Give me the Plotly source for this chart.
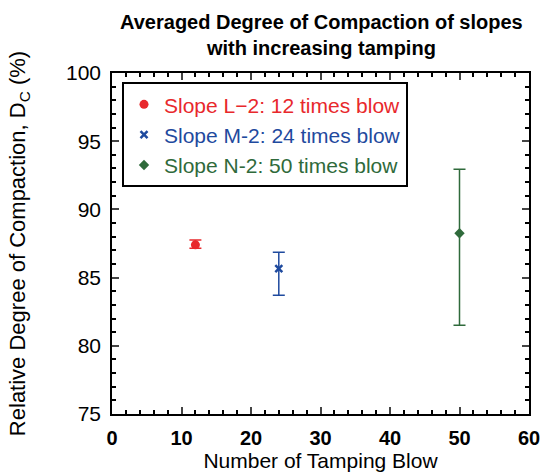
import plotly.graph_objects as go

# averaged degree of compaction per slope
slopes = ["Slope L\u22122: 12 times blow", "Slope M-2: 24 times blow", "Slope N-2: 50 times blow"]
blows = [12, 24, 50]
dc_mean = [87.4, 85.65, 88.25]
err_plus = [0.35, 1.2, 4.7]
err_minus = [0.25, 1.95, 6.75]

colors = ["#e8282c", "#1f4a9e", "#2f6a3b"]
symbols = ["circle", "x-thin-open", "diamond"]
sizes = [9, 7, 8]

font = "Liberation Sans, Arial"

fig = go.Figure()
for i in range(len(slopes)):
    fig.add_trace(go.Scatter(
        x=[blows[i]], y=[dc_mean[i]], mode="markers",
        name=f"<span style='color:{colors[i]}'>{slopes[i]}</span>",
        marker=dict(color=colors[i], symbol=symbols[i], size=sizes[i],
                    line=dict(color=colors[i], width=2.5 if i == 1 else 0)),
        error_y=dict(type="data", symmetric=False, array=[err_plus[i]],
                     arrayminus=[err_minus[i]], color=colors[i],
                     thickness=1.5, width=6),
    ))

fig.update_layout(
    width=542, height=472,
    margin=dict(l=112, r=13, t=73, b=58),
    paper_bgcolor="white", plot_bgcolor="white",
    font=dict(family=font, color="black"),
    title=dict(text="<b>Averaged Degree of Compaction of slopes<br>with increasing tamping</b>",
               x=0.593, xanchor="center", y=0.939, yanchor="middle",
               font=dict(size=20)),
    legend=dict(x=0.024, y=0.973, xanchor="left", yanchor="top",
                bordercolor="black", borderwidth=2, bgcolor="white",
                font=dict(size=21), tracegroupgap=0),
    showlegend=True,
)

fig.update_xaxes(range=[0, 60], dtick=10, ticks="inside", ticklen=7, tickwidth=1.5,
                 showline=True, linecolor="black", linewidth=1.5, mirror="ticks",
                 showgrid=False, zeroline=False, automargin=False,
                 minor=dict(dtick=2, ticks="inside", ticklen=4, tickcolor="black"),
                 tickfont=dict(size=20, weight="bold"), ticklabelstandoff=5,
                 title=dict(text="Number of Tamping Blow", font=dict(size=21), standoff=3))
fig.update_yaxes(range=[75, 100], dtick=5, ticks="inside", ticklen=7, tickwidth=1.5,
                 showline=True, linecolor="black", linewidth=1.5, mirror="ticks",
                 showgrid=False, zeroline=False, automargin=False,
                 minor=dict(dtick=1, ticks="inside", ticklen=4, tickcolor="black"),
                 tickfont=dict(size=21), ticklabelstandoff=5,
                 title=dict(text="Relative Degree of Compaction, D<sub>C</sub> (%)",
                            font=dict(size=22), standoff=34))

fig.write_html("out.html", config={"displayModeBar": False},
               post_script="document.body.style.margin='0';")
